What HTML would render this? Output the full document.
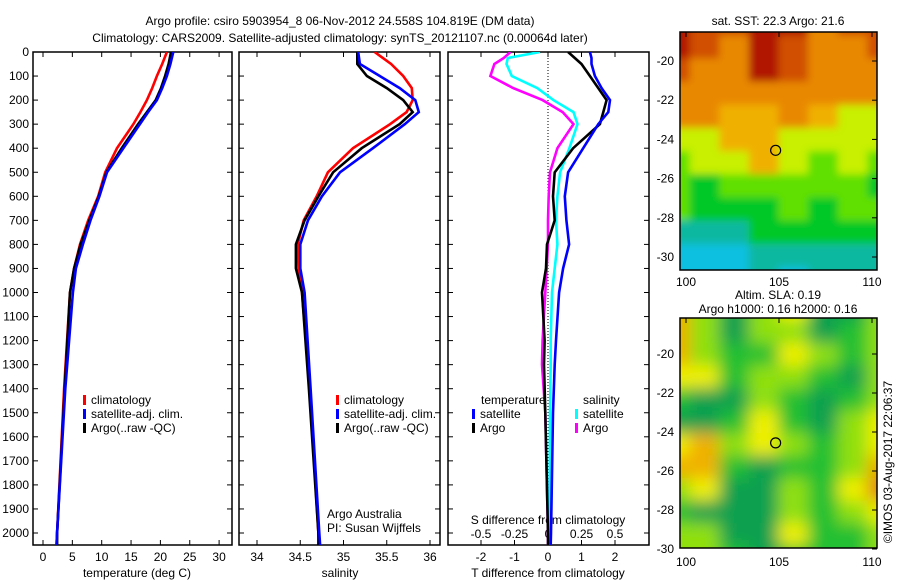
<!DOCTYPE html>
<html><head><meta charset="utf-8"><style>
html,body{margin:0;padding:0;background:#fff;width:900px;height:580px;overflow:hidden}
svg{font-family:"Liberation Sans",sans-serif;font-size:12px}
</style></head><body>
<svg id="fig" width="900" height="580" viewBox="0 0 900 580" xmlns="http://www.w3.org/2000/svg">
<defs>
<filter id="blur1" x="0" y="0" width="100%" height="100%"><feGaussianBlur stdDeviation="4"/></filter>
<filter id="blur2" x="0" y="0" width="100%" height="100%"><feGaussianBlur stdDeviation="8"/></filter>
<clipPath id="c1"><rect x="33" y="52" width="199" height="493"/></clipPath>
<clipPath id="c2"><rect x="239" y="52" width="201" height="493"/></clipPath>
<clipPath id="c3"><rect x="448" y="52" width="201" height="493"/></clipPath>
<clipPath id="cm1"><rect x="680" y="32" width="197" height="238"/></clipPath>
<clipPath id="cm2"><rect x="680" y="318" width="197" height="230"/></clipPath>
</defs>
<text x="340" y="25" text-anchor="middle">Argo profile: csiro 5903954_8 06-Nov-2012 24.558S 104.819E (DM data)</text>
<text x="340" y="42" text-anchor="middle">Climatology: CARS2009. Satellite-adjusted climatology: synTS_20121107.nc (0.00064d later)</text>
<g id="g"></g>
</svg>
<script>
// depth levels (m)
const depths=[0,50,100,150,200,250,300,400,500,600,700,800,900,1000,1400,2000,2050];
// temperature (deg C)
const tempClim=[21.1,20.3,19.4,18.6,17.7,16.6,15.4,12.6,10.6,9.4,7.7,6.3,5.3,4.6,3.6,2.4,2.3];
const tempSat=[22.2,21.7,21.1,20.3,19.4,17.9,16.5,13.7,10.9,9.6,8.1,6.8,5.6,5.1,3.8,2.4,2.3];
const tempArgo=[21.8,21.4,20.8,20.1,19.2,17.7,16.2,13.4,10.8,9.5,7.9,6.4,5.3,4.6,3.7,2.4,2.4];
// salinity
const salClim=[35.36,35.55,35.69,35.79,35.8,35.73,35.54,35.11,34.82,34.69,34.54,34.47,34.48,34.52,34.61,34.71,34.72];
const salSat=[35.17,35.19,35.42,35.65,35.83,35.87,35.71,35.34,34.96,34.75,34.59,34.5,34.5,34.55,34.62,34.72,34.73];
const salArgo=[35.16,35.16,35.27,35.5,35.69,35.8,35.65,35.21,34.88,34.71,34.55,34.45,34.45,34.52,34.6,34.71,34.71];
// differences from climatology
const dDepths=[0,25,50,100,150,200,250,300,400,500,600,700,800,900,1000,1200,1300,1500,2000,2050];
const dTSat=[1.25,1.3,1.3,1.4,1.6,1.85,1.8,1.5,1.05,0.6,0.5,0.55,0.63,0.45,0.33,0.24,0.2,0.15,0.09,0.08];
const dTArgo=[0.6,0.8,1.0,1.25,1.5,1.75,1.65,1.55,0.75,0.2,0.15,0.2,-0.03,-0.06,-0.18,-0.1,-0.12,-0.08,0,0];
const dSSat=[-0.06,-0.3,-0.31,-0.27,-0.08,0.04,0.19,0.22,0.16,0.09,0.07,0.06,0.07,0.05,0.03,0.02,0.02,0.015,0.01,0.01];
const dSArgo=[-0.28,-0.33,-0.4,-0.43,-0.26,-0.04,0.11,0.19,0.07,0.015,0.005,0,0,-0.01,-0.02,-0.04,-0.045,-0.02,0,0];
// ticks
const depthTicks=[0,100,200,300,400,500,600,700,800,900,1000,1100,1200,1300,1400,1500,1600,1700,1800,1900,2000];
const tempTicks=[0,5,10,15,20,25,30];
const salTicks=[34,34.5,35,35.5,36];
const salTickLabels=["34","34.5","35","35.5","36"];
const dTTicks=[-2,-1,0,1,2];
const dSTicks=[-0.5,-0.25,0,0.25,0.5];
const dSTickLabels=["-0.5","-0.25","0","0.25","0.5"];
// map grids (lat rows top->bottom, lon cols)
const sstGrid=[
[8,7,7,8,8,6,7,7],[8,7,6,8,7,6,6,7],[7,6,6,8,7,6,6,6],[6,6,6,6,6,6,6,6],
[6,6,5,5,6,5,4,4],[4,4,5,5,4,4,4,4],[3,4,4,5,4,3,4,3],[3,2,3,3,3,3,3,2],
[3,2,2,2,3,2,3,3],[1,1,1,2,2,2,2,2],[0,0,0,1,1,1,1,1],[0,0,0,1,0,1,1,1]];
const slaGrid=[
[6,4,2,4,5,2,2,4],[6,4,2,4,4,2,3,4],[6,4,3,3,5,4,3,4],[5,5,3,4,4,3,2,4],
[3,2,2,4,3,2,3,4],[2,2,3,5,3,2,4,5],[5,6,4,5,4,3,4,5],[6,6,3,2,3,3,4,6],
[4,5,2,2,4,3,5,7],[3,2,2,2,4,3,4,5],[4,4,2,2,5,3,3,4],[4,4,3,2,3,3,3,4]];
const lonTicks=[100,105,110];
const latTicks=[-20,-22,-24,-26,-28,-30];
const argoLon=104.819, argoLat=-24.558;

const NS='http://www.w3.org/2000/svg';
const G=document.getElementById('g');
function mk(tag,attrs,parent){const e=document.createElementNS(NS,tag);for(const k in attrs)e.setAttribute(k,attrs[k]);(parent||G).appendChild(e);return e;}
function txt(x,y,s,anchor,parent){const e=mk('text',{x:x,y:y,'text-anchor':anchor||'start'},parent);e.textContent=s;return e;}
const yD=d=>52+d*0.2405;
const xT=t=>43+t*5.87;
const xS=s=>257+(s-34)*86.5;
const xdT=t=>548+t*33.5;
const xdS=s=>548+s*134;

function frame(x,y,w,h,name){const r=mk('rect',{x:x,y:y,width:w,height:h,fill:'none',stroke:'#000','stroke-width':1.5});}
function line(xs,ys,color,clip,name){
  const p=mk('polyline',{points:xs.map((x,i)=>x.toFixed(1)+','+ys[i].toFixed(1)).join(' '),fill:'none',stroke:color,'stroke-width':2.6,'clip-path':'url(#'+clip+')'});
  
  
}
function legend(x,y,color,label){
  const g=mk('g',{});
  
  
  mk('rect',{x:x,y:y-9,width:3,height:10,fill:color},g);
  txt(x+8,y,label,'start',g);
}
// panel frames
frame(33,52,199,493,'temperature-panel');
frame(239,52,201,493,'salinity-panel');
frame(448,52,201,493,'difference-panel');
// depth ticks
depthTicks.forEach(d=>{
  const y=yD(d);
  const t=txt(29,y+4,String(d),'end');
  
  
  [[33,232],[239,440],[448,649]].forEach(([a,b])=>{mk('line',{x1:a,x2:a+5,y1:y,y2:y,stroke:'#000'});mk('line',{x1:b-5,x2:b,y1:y,y2:y,stroke:'#000'});});
});
// x ticks
tempTicks.forEach(t=>{const x=xT(t);mk('line',{x1:x,x2:x,y1:52,y2:57,stroke:'#000'});mk('line',{x1:x,x2:x,y1:540,y2:545,stroke:'#000'});
  const e=txt(x,561,String(t),'middle');});
salTicks.forEach((s,i)=>{const x=xS(s);mk('line',{x1:x,x2:x,y1:52,y2:57,stroke:'#000'});mk('line',{x1:x,x2:x,y1:540,y2:545,stroke:'#000'});
  const e=txt(x,561,salTickLabels[i],'middle');});
dTTicks.forEach(t=>{const x=xdT(t);mk('line',{x1:x,x2:x,y1:52,y2:57,stroke:'#000'});mk('line',{x1:x,x2:x,y1:540,y2:545,stroke:'#000'});
  const e=txt(x,561,String(t),'middle');});
dSTicks.forEach((s,i)=>{const e=txt(xdS(s),538,dSTickLabels[i],'middle');});
// axis titles
[[137,577,'temperature (deg C)','temperature-axis-title'],[340,577,'salinity','salinity-axis-title'],[548,577,'T difference from climatology','tdiff-axis-title'],[548,524,'S difference from climatology','sdiff-axis-title']].forEach(a=>{const e=txt(a[0],a[1],a[2],'middle');});
// zero dotted line
mk('line',{x1:xdT(0),x2:xdT(0),y1:52,y2:545,stroke:'#000','stroke-dasharray':'1,2'});
// series
const ys=depths.map(yD), dys=dDepths.map(yD);
line(tempClim.map(xT),ys,'#ff0000','c1','temp-climatology-line');
line(tempArgo.map(xT),ys,'#000000','c1','temp-argo-line');
line(tempSat.map(xT),ys,'#0000ff','c1','temp-satellite-line');
line(salClim.map(xS),ys,'#ff0000','c2','sal-climatology-line');
line(salArgo.map(xS),ys,'#000000','c2','sal-argo-line');
line(salSat.map(xS),ys,'#0000ff','c2','sal-satellite-line');
line(dSArgo.map(xdS),dys,'#ff00ff','c3','sdiff-argo-line');
line(dSSat.map(xdS),dys,'#00ffff','c3','sdiff-satellite-line');
line(dTArgo.map(xdT),dys,'#000000','c3','tdiff-argo-line');
line(dTSat.map(xdT),dys,'#0000ff','c3','tdiff-satellite-line');
// legends
legend(83,404,'#ff0000','climatology');legend(83,418,'#0000ff','satellite-adj. clim.');legend(83,432,'#000000','Argo(..raw -QC)');
legend(336,404,'#ff0000','climatology');legend(336,418,'#0000ff','satellite-adj. clim.');legend(336,432,'#000000','Argo(..raw -QC)');
txt(481,404,'temperature');txt(583,404,'salinity');
legend(472,418,'#0000ff','satellite');legend(472,432,'#000000','Argo');
legend(575,418,'#00ffff','satellite');legend(575,432,'#ff00ff','Argo');
txt(327,518,'Argo Australia');txt(327,532,'PI: Susan Wijffels');
// maps
const sstCols=['#10c0e0','#10b8a0','#00c828','#60e000','#c8f000','#f0b000','#e88800','#d05000','#b01800'];
const slaCols=['#10a0a0','#10a060','#10a050','#20c030','#90e010','#f0f000','#f0b000','#e08010'];
function map(grid,cols,x0,y0,w,h,clip,blur,name){
  const g=mk('g',{'clip-path':'url(#'+clip+')'});
  
  
  const inner=mk('g',{filter:'url(#'+blur+')'},g);
  const nr=grid.length,nc=grid[0].length,cw=(w+40)/nc,ch=(h+40)/nr;
  grid.forEach((row,i)=>row.forEach((v,j)=>{
    const r=mk('rect',{x:x0-20+j*cw,y:y0-20+i*ch,width:cw+1,height:ch+1,fill:cols[v]},inner);
    
    
  }));
  frame(x0,y0,w,h,name+'-frame');
}
const mx=lon=>686+(lon-100)*18.6;
map(sstGrid,sstCols,680,32,197,238,'cm1','blur1','sst-map');
map(slaGrid,slaCols,680,318,197,230,'cm2','blur2','sla-map');
const my1=lat=>61+(-20-lat)*19.6, my2=lat=>354+(-20-lat)*19.5;
latTicks.forEach(l=>{
  const a=txt(674,my1(l)+4,String(l),'end');
  const b=txt(674,my2(l)+4,String(l),'end');
  mk('line',{x1:872,x2:877,y1:my1(l),y2:my1(l),stroke:'#000'});mk('line',{x1:872,x2:877,y1:my2(l),y2:my2(l),stroke:'#000'});
});
lonTicks.forEach(l=>{
  const a=txt(mx(l),286,String(l),'middle');
  const b=txt(mx(l),566,String(l),'middle');
  mk('line',{x1:mx(l),x2:mx(l),y1:32,y2:37,stroke:'#000'});mk('line',{x1:mx(l),x2:mx(l),y1:318,y2:323,stroke:'#000'});
});
const c1=mk('ellipse',{cx:mx(argoLon),cy:my1(argoLat),rx:5,ry:5,fill:'none',stroke:'#000','stroke-width':1.2});

const c2=mk('ellipse',{cx:mx(argoLon),cy:my2(argoLat),rx:5,ry:5,fill:'none',stroke:'#000','stroke-width':1.2});

[[778,25,'sat. SST: 22.3 Argo: 21.6','sst-map-title'],[778,299,'Altim. SLA: 0.19','sla-map-title'],[778,313,'Argo h1000: 0.16 h2000: 0.16','sla-map-subtitle']].forEach(a=>{const e=txt(a[0],a[1],a[2],'middle');});
const cp=txt(0,0,'©IMOS 03-Aug-2017 22:06:37','middle');
cp.setAttribute('transform','translate(892,462) rotate(-90)');


</script>
</body></html>
